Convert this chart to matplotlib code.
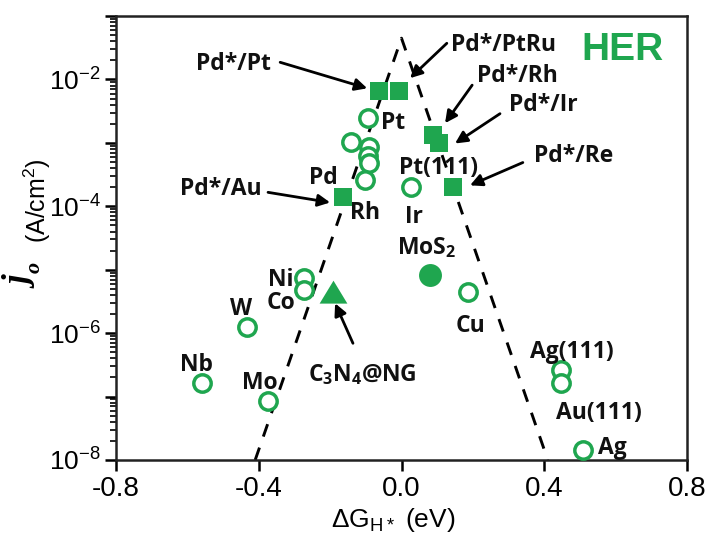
import matplotlib
matplotlib.use("Agg")
import matplotlib.pyplot as plt
import numpy as np

plt.rcParams['font.family'] = ['Liberation Sans', 'DejaVu Sans']
plt.rcParams['mathtext.fontset'] = 'custom'
plt.rcParams['mathtext.rm'] = 'Liberation Sans'
plt.rcParams['mathtext.bf'] = 'Open Sans:bold'

GREEN = '#1fa64f'

# ---- data ----
metal_names = ['Nb', 'Mo', 'W', 'Ni', 'Co', 'Cu', 'Ag(111)', 'Au(111)', 'Ag', 'Ir', 'Pt',
               'c1', 'c2', 'c3', 'c4', 'c5']
metal_dG = [-0.56, -0.374, -0.433, -0.273, -0.273, 0.186, 0.447, 0.447, 0.508, 0.027, -0.094,
            -0.141, -0.091, -0.094, -0.091, -0.102]
metal_logj = [-6.79, -7.07, -5.91, -5.13, -5.32, -5.35, -6.58, -6.79, -7.84, -3.70, -2.61,
              -2.99, -3.07, -3.20, -3.32, -3.59]

pd_names = ['Pd*/Pt', 'Pd*/PtRu', 'Pd*/Rh', 'Pd*/Ir', 'Pd*/Re', 'Pd*/Au']
pd_dG = [-0.063, -0.007, 0.088, 0.105, 0.145, -0.164]
pd_logj = [-2.19, -2.19, -2.88, -3.01, -3.70, -3.86]

mos2_dG = [0.08]
mos2_logj = [-5.09]

c3n4_dG = [-0.192]
c3n4_logj = [-5.35]

volcano_dG = [-0.41, 0.0, 0.41]
volcano_logj = [-8.0, -1.35, -8.0]

fig = plt.figure(figsize=(7.07, 5.37), dpi=100)
ax = fig.add_axes([116/707, 1-460/537, 571/707, 444/537])

ax.plot(volcano_dG, 10**np.array(volcano_logj), color='k', lw=2.1,
        linestyle=(0, (4.5, 4)), zorder=1)
ax.plot(metal_dG, 10**np.array(metal_logj), 'o', ms=12.5, mfc='white', mec=GREEN,
        mew=2.5, zorder=3)
ax.plot(pd_dG, 10**np.array(pd_logj), 's', ms=13.5, color=GREEN, mew=0, zorder=4)
ax.plot(mos2_dG, 10**np.array(mos2_logj), 'o', ms=16.5, color=GREEN, mew=0, zorder=4)
tri = [(-1, -0.8), (1, -0.8), (0, 0.85)]
ax.plot(c3n4_dG, 10**np.array(c3n4_logj), marker=tri, ls='none', ms=20, color=GREEN,
        mew=0, zorder=4)

ax.set_yscale('log')
ax.set_xlim(-0.8, 0.8)
ax.set_ylim(1e-8, 1e-1)
ax.set_xticks([-0.8, -0.4, 0.0, 0.4, 0.8])
ax.set_xticklabels(['-0.8', '-0.4', '0.0', '0.4', '0.8'])
ax.yaxis.set_major_locator(matplotlib.ticker.LogLocator(base=10, numticks=20))
ax.yaxis.set_minor_locator(matplotlib.ticker.LogLocator(base=10, subs=np.arange(2, 10), numticks=20))

def yfmt(v, pos):
    e = int(round(np.log10(v)))
    if e % 2 == 0 and e <= -2:
        return r'$\mathrm{10^{%d}}$' % e
    return ''
ax.yaxis.set_major_formatter(matplotlib.ticker.FuncFormatter(yfmt))
ax.yaxis.set_minor_formatter(matplotlib.ticker.NullFormatter())

ax.tick_params(axis='x', which='major', labelsize=20, width=1.8, length=8, direction='out', color='k')
ax.tick_params(axis='y', which='major', labelsize=19, width=1.8, length=8, direction='out', color='k', pad=3)
ax.tick_params(axis='y', which='minor', width=1.2, length=4, direction='out')
for s in ax.spines.values():
    s.set_linewidth(1.8)
    s.set_color('#222222')

# y label: bold italic serif j with subscript o, then (A/cm^2)
px = lambda x, y: (x/707, 1-y/537)
serif = dict(family=['Liberation Serif', 'DejaVu Serif'], style='italic', weight='bold')
fig.text(*px(32, 283), 'j', fontsize=25, rotation=90, rotation_mode='anchor',
         ha='center', va='baseline', **serif)
fig.text(*px(40, 267), 'o', fontsize=16, rotation=90, rotation_mode='anchor',
         ha='center', va='baseline', **serif)
fig.text(*px(46, 201), r'(A/cm$^2$)', fontsize=18, rotation=90, rotation_mode='anchor',
         ha='center', va='baseline')
fig.text(*px(393, 527), r'ΔG$_{\mathrm{H*}}$ (eV)', ha='center', va='baseline', fontsize=19)

lab = dict(fontsize=16.5, fontweight='bold', family=['Open Sans', 'DejaVu Sans'],
           ha='center', va='center', color='#111111', zorder=5)

def L(x, logy, s, **kw):
    d = dict(lab)
    d.update(kw)
    ax.text(x, 10**logy, s, **d)

L(-0.024, -2.68, 'Pt')
L(-0.220, -3.56, 'Pd')
L(-0.102, -4.11, 'Rh')
L(0.105, -3.39, 'Pt(111)')
L(0.035, -4.17, 'Ir')
L(0.070, -4.66, r'MoS$_\mathbf{2}$')
L(-0.338, -5.17, 'Ni')
L(-0.338, -5.53, 'Co')
L(-0.45, -5.62, 'W')
L(-0.576, -6.50, 'Nb')
L(-0.396, -6.79, 'Mo')
L(0.192, -5.89, 'Cu')
L(0.478, -6.30, 'Ag(111)')
L(0.553, -7.26, 'Au(111)')
L(0.590, -7.81, 'Ag')

ax.text(0.62, 10**-1.54, 'HER', fontsize=28, fontweight='bold', color=GREEN,
        ha='center', va='center', family=['Liberation Sans'])

arrow = dict(arrowstyle='-|>', color='k', lw=2, mutation_scale=18, shrinkA=0, shrinkB=0)

def A(s, tx, tly, hx, hly, lx, lly):
    ax.annotate('', xy=(hx, 10**hly), xytext=(tx, 10**tly), arrowprops=arrow, zorder=5)
    if s:
        L(lx, lly, s)

A('Pd*/Pt', -0.34, -1.73, -0.096, -2.14, -0.472, -1.75)
A('Pd*/PtRu', 0.127, -1.43, 0.024, -1.98, 0.287, -1.46)
A('Pd*/Rh', 0.198, -2.09, 0.122, -2.69, 0.324, -1.94)
A('Pd*/Ir', 0.276, -2.54, 0.150, -3.01, 0.396, -2.41)
A('Pd*/Re', 0.340, -3.31, 0.192, -3.67, 0.481, -3.20)
A('Pd*/Au', -0.374, -3.78, -0.200, -3.94, -0.506, -3.72)
A(r'C$_\mathbf{3}$N$_\mathbf{4}$@NG', -0.136, -6.16, -0.186, -5.53, -0.111, -6.66)

fig.savefig('out.png', dpi=100)
